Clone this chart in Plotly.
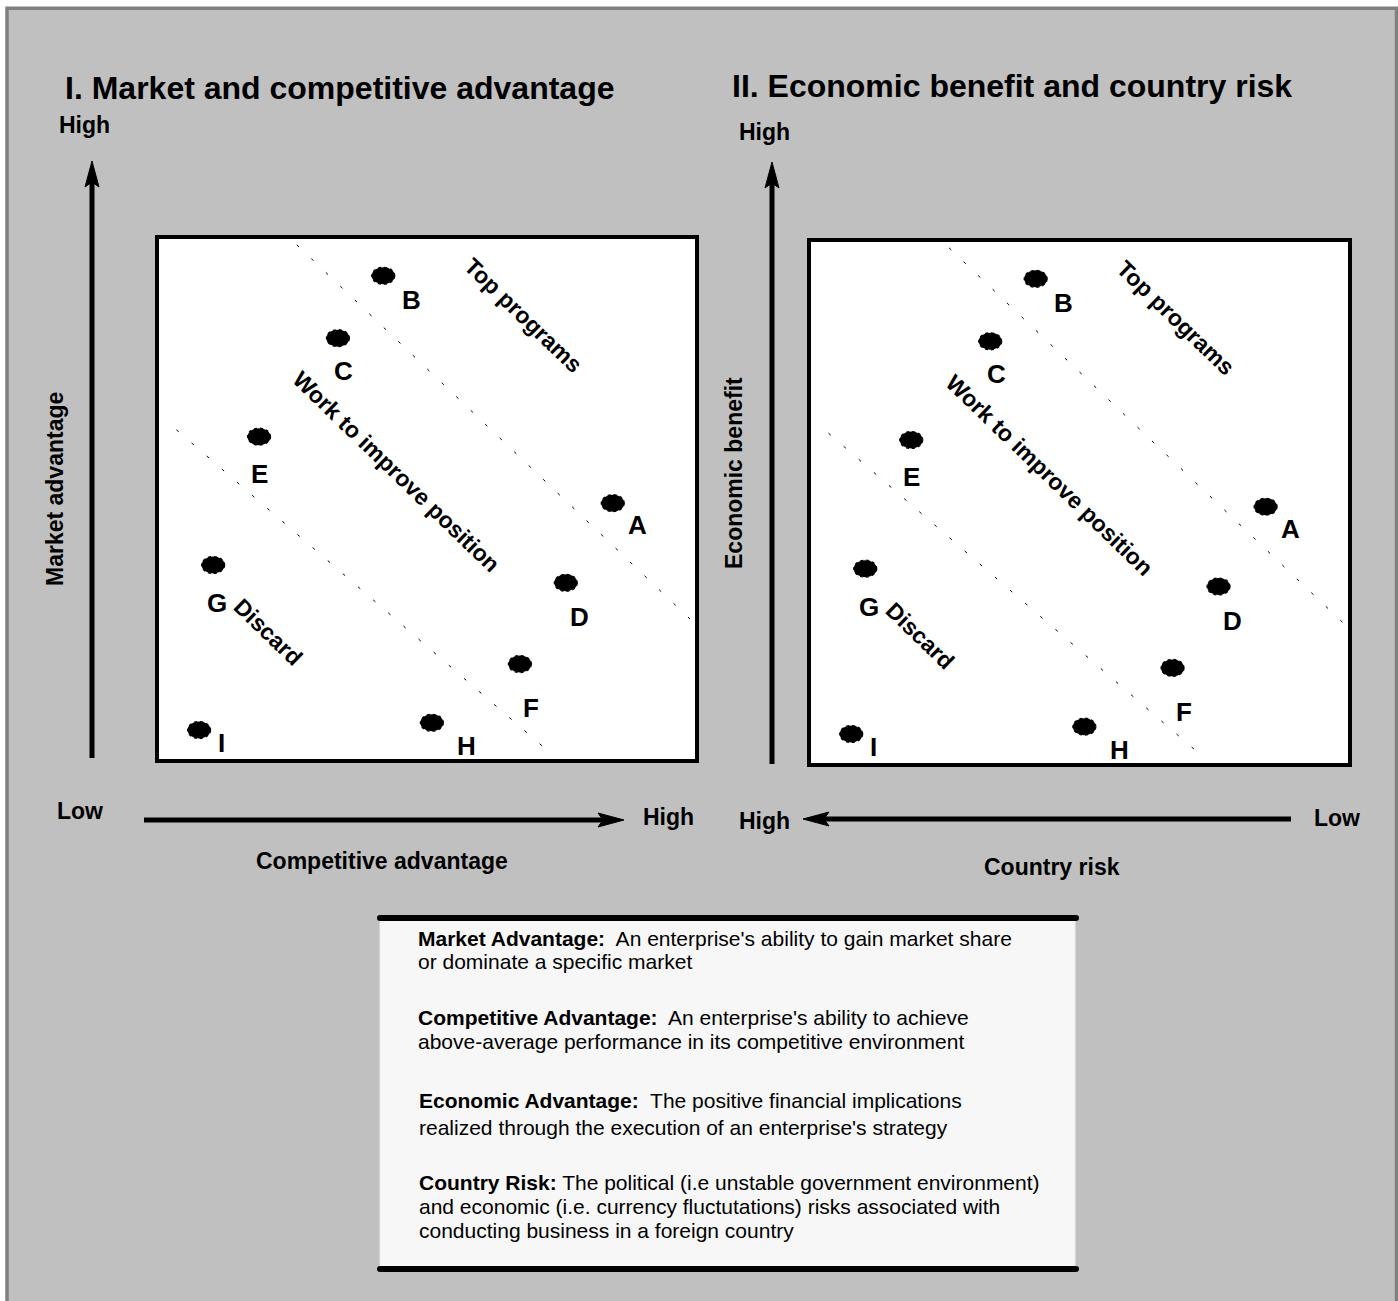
import plotly.graph_objects as go

# ---------------------------------------------------------------------------
# Program scores (0-10 scale on each axis)
# ---------------------------------------------------------------------------
programs = ["A", "B", "C", "D", "E", "F", "G", "H", "I"]

# Panel I: competitive advantage (x) vs market advantage (y)
competitive_advantage = [8.44, 4.19, 3.35, 7.57, 1.89, 6.72, 1.04, 5.09, 0.78]
market_advantage = [4.92, 9.26, 8.07, 3.40, 6.19, 1.85, 3.74, 0.73, 0.59]

# Panel II: country risk (x, high on the left) vs economic benefit (y)
country_risk = [1.56, 5.81, 6.65, 2.43, 8.11, 3.28, 8.96, 4.91, 9.22]
economic_benefit = [4.92, 9.26, 8.07, 3.40, 6.19, 1.85, 3.74, 0.73, 0.59]

# Tier boundaries (dotted diagonals)
p1_upper_x = [2.59, 9.87]
p1_upper_y = [9.85, 2.71]
p1_lower_x = [0.36, 7.22]
p1_lower_y = [6.32, 0.21]

p2_upper_x = [7.41, 0.13]
p2_upper_y = [9.85, 2.71]
p2_lower_x = [9.64, 2.78]
p2_lower_y = [6.32, 0.21]

# Zone names and their centres
zones = ["Top programs", "Work to improve position", "Discard"]
p1_zone_x = [6.78, 4.44, 2.06]
p1_zone_y = [8.51, 5.52, 2.46]
p2_zone_x = [3.22, 5.56, 7.94]
p2_zone_y = [8.51, 5.52, 2.46]

# Definitions shown in the glossary box (bold term, description lines)
glossary_terms = ["Market Advantage:", "Competitive Advantage:",
                  "Economic Advantage:", "Country Risk:"]
glossary_lines = [
    ["\u00a0 An enterprise's ability to gain market share",
     "or dominate a specific market"],
    ["\u00a0 An enterprise's ability to achieve",
     "above-average performance in its competitive environment"],
    ["\u00a0 The positive financial implications",
     "realized through the execution of an enterprise's strategy"],
    [" The political (i.e unstable government environment)",
     "and economic (i.e. currency fluctutations) risks associated with",
     "conducting business in a foreign country"],
]

# ---------------------------------------------------------------------------
W, H = 1398, 1301
FONT = "Liberation Sans, Arial, Helvetica, sans-serif"
GRAY = "#c0c0c0"


def fx(px):
    return px / W


def fy(py):
    return 1 - py / H


def pt(x, y):
    return f"{fx(x):.6f},{fy(y):.6f}"


P1 = dict(x0=157, x1=697, y0=237, y1=761)
P2 = dict(x0=809, x1=1350, y0=240, y1=765)

fig = go.Figure()

boundary_style = dict(color="black", width=1, dash="3px,17px")
for xs, ys, xa, ya in [
    (p1_upper_x, p1_upper_y, "x", "y"),
    (p1_lower_x, p1_lower_y, "x", "y"),
    (p2_upper_x, p2_upper_y, "x2", "y2"),
    (p2_lower_x, p2_lower_y, "x2", "y2"),
]:
    fig.add_trace(go.Scatter(x=xs, y=ys, mode="lines", line=boundary_style,
                             xaxis=xa, yaxis=ya, hoverinfo="skip",
                             showlegend=False))

shapes = []
# page background with grey frame
shapes.append(dict(type="rect", xref="paper", yref="paper", layer="below",
                   x0=fx(7), x1=fx(1396.5), y0=fy(1330), y1=fy(8.3),
                   fillcolor=GRAY, line=dict(color="#808080", width=3.5)))
# white panels
for P in (P1, P2):
    shapes.append(dict(type="rect", xref="paper", yref="paper", layer="below",
                       x0=fx(P["x0"]), x1=fx(P["x1"]),
                       y0=fy(P["y1"]), y1=fy(P["y0"]),
                       fillcolor="white", line=dict(color="black", width=4)))

# program dots
for xs, ys, xa, ya in [
    (competitive_advantage, market_advantage, "x", "y"),
    (country_risk, economic_benefit, "x2", "y2"),
]:
    for xv, yv in zip(xs, ys):
        shapes.append(dict(type="circle", xref=xa, yref=ya, layer="above",
                           xsizemode="pixel", ysizemode="pixel",
                           xanchor=xv, yanchor=yv,
                           x0=-11.5, x1=11.5, y0=-8.5, y1=8.5,
                           fillcolor="black",
                           line=dict(color="black", width=1.2, dash="dot")))


def line(x0, y0, x1, y1, w=5):
    return dict(type="line", xref="paper", yref="paper", layer="below",
                x0=fx(x0), y0=fy(y0), x1=fx(x1), y1=fy(y1),
                line=dict(color="black", width=w))


def head(tx, ty, direction, L=26, hw=7, notch=5):
    # notched triangular arrow head, tip at (tx, ty)
    if direction == "up":
        pts = [(tx, ty), (tx + hw, ty + L), (tx, ty + L - notch), (tx - hw, ty + L)]
    elif direction == "right":
        pts = [(tx, ty), (tx - L, ty + hw), (tx - L + notch, ty), (tx - L, ty - hw)]
    else:  # left
        pts = [(tx, ty), (tx + L, ty + hw), (tx + L - notch, ty), (tx + L, ty - hw)]
    path = "M" + " L".join(pt(*p) for p in pts) + " Z"
    return dict(type="path", xref="paper", yref="paper", layer="below",
                path=path, fillcolor="black", line=dict(color="black", width=1))


# axis arrows, panel I
shapes += [line(92, 758, 92, 180), head(92, 161, "up"),
           line(144, 820, 603, 820), head(624, 820, "right")]
# axis arrows, panel II
shapes += [line(772, 764, 772, 181), head(772, 162, "up"),
           line(1291, 819, 824, 819), head(803, 819, "left")]

# glossary box
BX0, BX1, BY0, BY1 = 380, 1075, 918, 1268
shapes.append(dict(type="rect", xref="paper", yref="paper", layer="below",
                   x0=fx(BX0), x1=fx(BX1), y0=fy(BY1), y1=fy(BY0),
                   fillcolor="#f7f7f7", line=dict(color="#ececec", width=1)))


def bar(x0, x1, yc, t=6):
    r = t / 2
    yt, yb = yc - r, yc + r
    path = (f"M{pt(x0, yt)} L{pt(x1, yt)} Q{pt(x1 + r, yt)} {pt(x1 + r, yc)} "
            f"Q{pt(x1 + r, yb)} {pt(x1, yb)} L{pt(x0, yb)} "
            f"Q{pt(x0 - r, yb)} {pt(x0 - r, yc)} Q{pt(x0 - r, yt)} {pt(x0, yt)} Z")
    return dict(type="path", xref="paper", yref="paper", layer="below",
                path=path, fillcolor="black", line=dict(width=0))


shapes += [bar(380, 1076, 918), bar(380, 1076, 1269)]

# ---------------------------------------------------------------------------
ann = []


def text(x, y, s, size=23, bold=True, angle=0, xanchor="center"):
    ann.append(dict(xref="paper", yref="paper", x=fx(x), y=fy(y),
                    text=f"<b>{s}</b>" if bold else s, showarrow=False,
                    textangle=angle, xanchor=xanchor, yanchor="middle",
                    font=dict(family=FONT, size=size, color="black")))


# titles
text(340, 88, "I. Market and competitive advantage", size=32)
text(1012, 86, "II. Economic benefit and country risk", size=32)

# axis captions, panel I
text(84, 125, "High")
text(80, 811, "Low")
text(668, 817, "High")
text(382, 861, "Competitive advantage")
text(55, 489, "Market advantage", angle=-90)
# axis captions, panel II
text(764, 132, "High")
text(765, 821, "High")
text(1337, 818, "Low")
text(1052, 867, "Country risk")
text(734, 473, "Economic benefit", angle=-90)

# program letters, offset from their dots (pixels: right, down)
label_offset = {"A": (25, 22), "B": (28, 24), "C": (6, 33), "D": (14, 34),
                "E": (0, 37), "F": (11, 44), "G": (4, 38), "H": (35, 23),
                "I": (22, 13)}
for xs, ys, xa, ya in [
    (competitive_advantage, market_advantage, "x", "y"),
    (country_risk, economic_benefit, "x2", "y2"),
]:
    for name, xv, yv in zip(programs, xs, ys):
        dx, dy = label_offset[name]
        ann.append(dict(xref=xa, yref=ya, x=xv, y=yv, text=f"<b>{name}</b>",
                        showarrow=False, xshift=dx, yshift=-dy,
                        xanchor="center", yanchor="middle",
                        font=dict(family=FONT, size=26, color="black")))

# zone names along the diagonals
zone_sets = [(p1_zone_x, p1_zone_y, "x", "y"), (p2_zone_x, p2_zone_y, "x2", "y2")]
for zx, zy, xa, ya in zone_sets:
    for name, xv, yv in zip(zones, zx, zy):
        ann.append(dict(xref=xa, yref=ya, x=xv, y=yv, text=f"<b>{name}</b>",
                        showarrow=False, textangle=44,
                        xanchor="center", yanchor="middle",
                        font=dict(family=FONT, size=23, color="black")))

# glossary text
line_y = [[938, 962], [1017, 1041], [1100, 1127], [1182, 1206, 1230]]
line_x = [416, 416, 417, 417]
for term, desc, ys, x0 in zip(glossary_terms, glossary_lines, line_y, line_x):
    for i, (s, yy) in enumerate(zip(desc, ys)):
        content = f"<b>{term}</b>{s}" if i == 0 else s
        ann.append(dict(xref="paper", yref="paper", x=fx(x0), y=fy(yy),
                        text=content, showarrow=False,
                        xanchor="left", yanchor="middle",
                        font=dict(family=FONT, size=21, color="black")))

axis_common = dict(visible=False, fixedrange=True, showgrid=False, zeroline=False)
fig.update_layout(
    width=W, height=H,
    margin=dict(l=0, r=0, t=0, b=0),
    paper_bgcolor="white",
    plot_bgcolor="rgba(0,0,0,0)",
    showlegend=False,
    xaxis=dict(domain=[fx(P1["x0"]), fx(P1["x1"])], range=[0, 10], anchor="y", **axis_common),
    yaxis=dict(domain=[fy(P1["y1"]), fy(P1["y0"])], range=[0, 10], anchor="x", **axis_common),
    xaxis2=dict(domain=[fx(P2["x0"]), fx(P2["x1"])], range=[10, 0], anchor="y2", **axis_common),
    yaxis2=dict(domain=[fy(P2["y1"]), fy(P2["y0"])], range=[0, 10], anchor="x2", **axis_common),
    shapes=shapes,
    annotations=ann,
)

fig.write_html("out.html")
